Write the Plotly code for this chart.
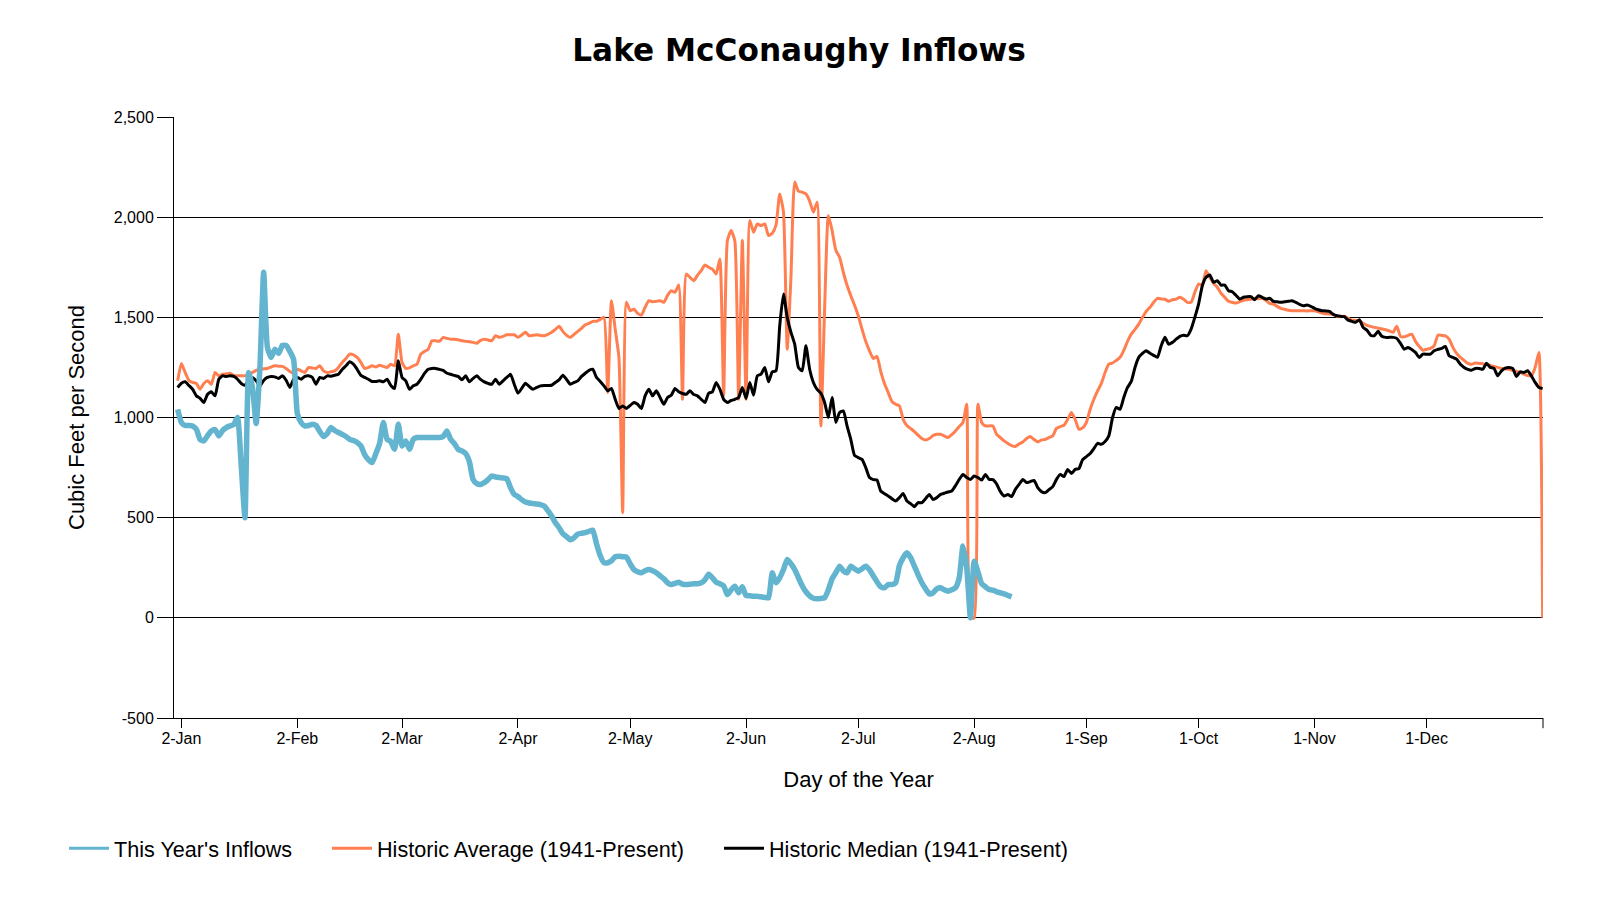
import pandas as pd
import plotly.graph_objects as go

# daily values (cfs), first value = 1-Jan
this_year = [
    1041, 975, 960, 960, 958, 941, 890, 883, 910, 933, 940, 908, 935, 950, 958,
    965, 1000, 760, 500, 1225, 1150, 970, 1250, 1725, 1350, 1300, 1341, 1320, 1360, 1360,
    1330, 1290, 1020, 975, 958, 960, 966, 960, 930, 905, 920, 950, 935, 925, 916,
    905, 891, 885, 875, 858, 815, 790, 775, 820, 870, 975, 891, 880, 841, 966,
    858, 883, 841, 891, 900, 900, 900, 900, 900, 900, 900, 905, 933, 891, 870,
    841, 833, 820, 780, 690, 670, 666, 675, 690, 708, 703, 700, 698, 695, 650,
    616, 605, 590, 578, 573, 570, 568, 565, 558, 535, 508, 475, 450, 420, 405,
    390, 400, 418, 422, 425, 432, 438, 370, 310, 275, 275, 285, 305, 308, 305,
    303, 270, 241, 230, 225, 235, 241, 235, 225, 210, 195, 175, 166, 172, 178,
    168, 166, 168, 170, 170, 175, 190, 218, 200, 178, 170, 160, 116, 140, 158,
    125, 155, 111, 110, 108, 108, 105, 102, 100, 225, 175, 200, 241, 291, 270,
    241, 200, 160, 130, 110, 98, 95, 97, 100, 140, 195, 225, 258, 235, 225,
    258, 245, 233, 245, 258, 240, 210, 180, 155, 150, 166, 166, 175, 260, 300,
    325, 300, 258, 215, 175, 145, 120, 125, 145, 150, 140, 133, 140, 150, 200,
    358, 250, 0, 283, 230, 170, 155, 141, 138, 130, 125, 120, 112, 105,
]

hist_avg = [
    1183, 1270, 1225, 1185, 1175, 1170, 1141, 1170, 1183, 1166, 1225, 1208, 1216, 1218, 1221,
    1210, 1208, 1208, 1208, 1215, 1225, 1235, 1241, 1243, 1245, 1252, 1258, 1256, 1255, 1245,
    1230, 1221, 1241, 1233, 1225, 1250, 1247, 1245, 1258, 1233, 1225, 1228, 1233, 1250, 1275,
    1295, 1316, 1313, 1300, 1275, 1245, 1250, 1258, 1252, 1261, 1255, 1250, 1266, 1258, 1416,
    1275, 1245, 1248, 1258, 1266, 1316, 1330, 1341, 1383, 1383, 1380, 1400, 1395, 1391, 1391,
    1388, 1383, 1380, 1378, 1375, 1371, 1385, 1391, 1387, 1383, 1408, 1400, 1405, 1413, 1413,
    1413, 1400, 1412, 1425, 1408, 1410, 1413, 1410, 1408, 1415, 1425, 1440, 1455, 1430, 1410,
    1400, 1415, 1430, 1445, 1463, 1470, 1480, 1480, 1490, 1500, 1125, 1583, 1441, 1300, 525,
    1575, 1533, 1541, 1520, 1511, 1550, 1583, 1578, 1580, 1583, 1575, 1610, 1633, 1625, 1661,
    1091, 1716, 1700, 1683, 1710, 1733, 1761, 1750, 1741, 1716, 1791, 1110, 1883, 1933, 1880,
    1091, 1883, 1091, 1983, 1925, 1966, 1958, 1966, 1908, 1920, 1960, 2116, 2025, 1341, 1700,
    2175, 2130, 2125, 2116, 2080, 2025, 2075, 958, 1541, 2008, 1933, 1835, 1800, 1725, 1660,
    1608, 1560, 1508, 1441, 1380, 1333, 1295, 1305, 1230, 1170, 1125, 1080, 1066, 1058, 991,
    960, 945, 930, 912, 895, 888, 895, 910, 916, 916, 908, 900, 915, 933, 955,
    975, 1066, 0, 0, 1066, 975, 958, 958, 958, 916, 900, 883, 870, 860, 855,
    868, 878, 895, 905, 890, 878, 888, 891, 900, 908, 946, 955, 961, 991, 1025,
    991, 941, 948, 975, 1040, 1091, 1133, 1170, 1225, 1266, 1272, 1285, 1300, 1335, 1380,
    1416, 1440, 1466, 1500, 1530, 1550, 1575, 1595, 1592, 1590, 1580, 1588, 1591, 1600, 1590,
    1575, 1575, 1625, 1666, 1661, 1733, 1700, 1670, 1650, 1620, 1600, 1580, 1575, 1571, 1578,
    1585, 1588, 1590, 1595, 1593, 1595, 1585, 1570, 1566, 1555, 1545, 1540, 1535, 1533, 1533,
    1533, 1533, 1532, 1533, 1533, 1528, 1522, 1518, 1517, 1516, 1505, 1503, 1505, 1495, 1486,
    1485, 1483, 1470, 1460, 1455, 1450, 1446, 1442, 1438, 1432, 1425, 1455, 1405, 1403, 1410,
    1416, 1380, 1355, 1336, 1341, 1345, 1358, 1411, 1410, 1408, 1391, 1350, 1320, 1300, 1285,
    1270, 1266, 1272, 1270, 1268, 1266, 1260, 1255, 1250, 1245, 1243, 1241, 1235, 1230, 1225,
    1216, 1210, 1208, 1250, 1325, 0,
]

hist_median = [
    1150, 1171, 1178, 1160, 1141, 1108, 1096, 1075, 1116, 1128, 1108, 1191, 1208, 1205, 1208,
    1205, 1191, 1170, 1161, 1185, 1200, 1183, 1158, 1185, 1200, 1205, 1203, 1195, 1208, 1186,
    1150, 1191, 1200, 1191, 1205, 1208, 1200, 1166, 1200, 1195, 1208, 1206, 1211, 1216, 1240,
    1258, 1278, 1266, 1240, 1210, 1200, 1191, 1180, 1180, 1183, 1178, 1191, 1160, 1145, 1283,
    1200, 1183, 1141, 1158, 1166, 1190, 1220, 1241, 1245, 1245, 1240, 1235, 1221, 1216, 1210,
    1205, 1188, 1208, 1178, 1195, 1208, 1190, 1178, 1170, 1166, 1191, 1166, 1183, 1200, 1216,
    1166, 1121, 1145, 1171, 1155, 1141, 1150, 1158, 1160, 1160, 1161, 1175, 1188, 1211, 1190,
    1166, 1175, 1183, 1205, 1221, 1235, 1241, 1200, 1180, 1158, 1133, 1145, 1091, 1045, 1058,
    1045, 1060, 1075, 1066, 1045, 1108, 1141, 1108, 1133, 1100, 1066, 1100, 1111, 1145, 1128,
    1120, 1116, 1133, 1115, 1108, 1091, 1075, 1121, 1128, 1175, 1141, 1091, 1075, 1085, 1091,
    1100, 1150, 1095, 1175, 1111, 1208, 1216, 1250, 1178, 1228, 1233, 1458, 1616, 1500, 1425,
    1366, 1250, 1233, 1358, 1241, 1175, 1140, 1121, 1075, 1000, 1100, 975, 1025, 1033, 958,
    891, 811, 800, 791, 750, 700, 690, 688, 633, 620, 608, 595, 583, 600, 621,
    583, 570, 555, 575, 575, 595, 616, 591, 600, 616, 622, 628, 633, 660, 691,
    716, 700, 691, 708, 700, 688, 716, 691, 690, 668, 630, 608, 616, 605, 641,
    666, 691, 675, 680, 686, 650, 630, 625, 640, 655, 691, 716, 705, 741, 720,
    741, 745, 790, 805, 820, 845, 871, 866, 880, 908, 1000, 1050, 1041, 1100, 1150,
    1180, 1250, 1300, 1320, 1333, 1321, 1310, 1300, 1358, 1400, 1366, 1375, 1391, 1405, 1411,
    1408, 1441, 1500, 1566, 1658, 1700, 1711, 1675, 1683, 1661, 1661, 1633, 1628, 1610, 1591,
    1600, 1603, 1603, 1588, 1608, 1600, 1591, 1595, 1580, 1578, 1575, 1578, 1580, 1583, 1575,
    1565, 1558, 1561, 1555, 1545, 1538, 1533, 1532, 1530, 1515, 1508, 1505, 1503, 1486, 1480,
    1475, 1488, 1450, 1436, 1411, 1408, 1430, 1405, 1400, 1400, 1400, 1395, 1370, 1341, 1350,
    1340, 1325, 1300, 1316, 1316, 1316, 1333, 1340, 1345, 1355, 1308, 1300, 1291, 1266, 1250,
    1240, 1236, 1245, 1245, 1241, 1271, 1250, 1245, 1208, 1233, 1246, 1250, 1245, 1205, 1228,
    1225, 1233, 1208, 1175, 1150, 1145,
]

tick_dates = ["2019-01-02", "2019-02-02", "2019-03-02", "2019-04-02", "2019-05-02",
              "2019-06-02", "2019-07-02", "2019-08-02", "2019-09-01", "2019-10-01",
              "2019-11-01", "2019-12-01"]
tick_labels = ["2-Jan", "2-Feb", "2-Mar", "2-Apr", "2-May", "2-Jun", "2-Jul",
               "2-Aug", "1-Sep", "1-Oct", "1-Nov", "1-Dec"]
y_ticks = [-500, 0, 500, 1000, 1500, 2000, 2500]
y_labels = ["-500", "0", "500", "1,000", "1,500", "2,000", "2,500"]

BLUE, ORANGE = "#63b4cf", "#ff7f50"

def days(vals):
    return pd.date_range("2019-01-01", periods=len(vals), freq="D")

fig = go.Figure()
fig.add_scatter(x=days(hist_avg), y=hist_avg, mode="lines",
                name="Historic Average (1941-Present)", legend="legend2",
                line=dict(color=ORANGE, width=3, shape="spline", smoothing=0.5))
fig.add_scatter(x=days(hist_median), y=hist_median, mode="lines",
                name="Historic Median (1941-Present)", legend="legend3",
                line=dict(color="black", width=3, shape="spline", smoothing=0.5))
fig.add_scatter(x=days(this_year), y=this_year, mode="lines",
                name="This Year's Inflows", showlegend=False,
                line=dict(color=BLUE, width=5.5, shape="spline", smoothing=0.5))
# legend entry for this year, drawn with the thinner legend stroke
fig.add_scatter(x=[None], y=[None], mode="lines", name="This Year's Inflows",
                legend="legend", line=dict(color=BLUE, width=3))

# closing tick at the right end of the x axis
fig.add_shape(type="line", xref="paper", yref="paper", x0=1, x1=1, y0=0, y1=-0.017,
              line=dict(color="black", width=1))

leg = dict(orientation="h", xref="container", yref="container", y=0.066,
           yanchor="middle", xanchor="left", font=dict(size=21.6), itemwidth=40,
           bgcolor="rgba(0,0,0,0)")

fig.update_layout(
    width=1600, height=900,
    font=dict(family="Liberation Sans, Arial", color="black"),
    plot_bgcolor="white", paper_bgcolor="white",
    margin=dict(l=166, r=65, t=109, b=190, autoexpand=False),
    title=dict(text="<b>Lake McConaughy Inflows</b>", x=0.4944, xref="container",
               y=1 - 42.5 / 900, yanchor="middle", yref="container",
               font=dict(size=31.2, family="DejaVu Sans")),
    showlegend=True,
    legend=dict(leg, x=56 / 1600),
    legend2=dict(leg, x=319 / 1600),
    legend3=dict(leg, x=711 / 1600),
    xaxis=dict(type="date", range=["2018-12-31 00:30", "2020-01-01 02:30"],
               tickvals=tick_dates, ticktext=tick_labels,
               ticks="outside", ticklen=9, tickcolor="black", ticklabelstandoff=-3,
               showline=True, linecolor="black", linewidth=1,
               showgrid=False, zeroline=False, tickfont=dict(size=16),
               title=dict(text="Day of the Year", font=dict(size=22), standoff=25),
               automargin=False),
    yaxis=dict(range=[-500, 2500], tickvals=y_ticks, ticktext=y_labels,
               ticks="outside", ticklen=16, tickcolor="black",
               showline=True, linecolor="black", linewidth=1,
               showgrid=True, gridcolor="black", gridwidth=1, zeroline=False,
               tickfont=dict(size=16),
               title=dict(text="Cubic Feet per Second", font=dict(size=22), standoff=23),
               automargin=False),
)

fig.write_html("out.html")
